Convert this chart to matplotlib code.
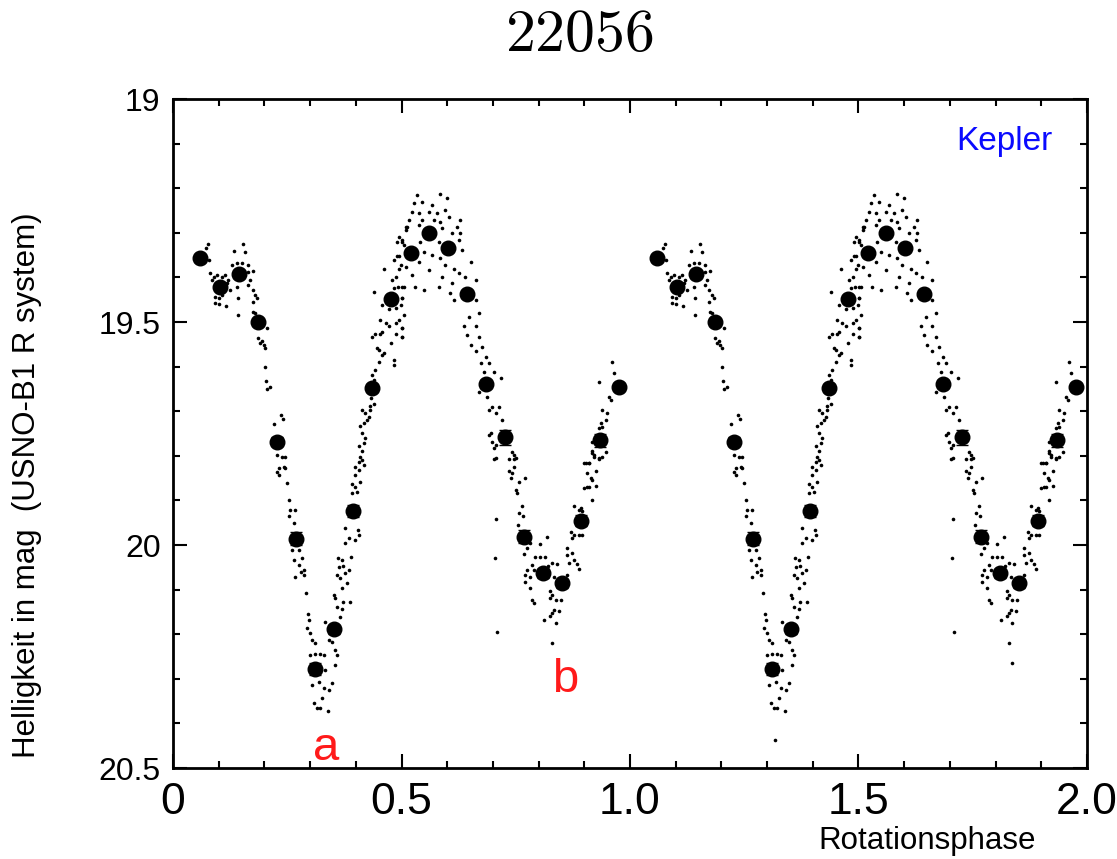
import numpy as np
import matplotlib
matplotlib.use('Agg')
import matplotlib.pyplot as plt
from matplotlib.ticker import MultipleLocator, FixedLocator, FixedFormatter

plt.rcParams['font.family'] = ['Liberation Sans', 'DejaVu Sans']
plt.rcParams['mathtext.fontset'] = 'cm'

# binned light curve (phase, R mag, error)
bin_phase = [0.060, 0.102, 0.144, 0.185, 0.227, 0.269, 0.310, 0.353, 0.393, 0.436, 0.476, 0.520,
             0.561, 0.602, 0.644, 0.684, 0.726, 0.768, 0.809, 0.852, 0.893, 0.934, 0.976]
bin_mag = [19.357, 19.421, 19.393, 19.501, 19.768, 19.986, 20.278, 20.189, 19.924, 19.648, 19.449, 19.346,
           19.300, 19.335, 19.438, 19.639, 19.758, 19.981, 20.063, 20.086, 19.945, 19.765, 19.645]
bin_err = [0.008, 0.008, 0.008, 0.008, 0.010, 0.015, 0.014, 0.010, 0.014, 0.008, 0.008, 0.008,
           0.008, 0.008, 0.008, 0.010, 0.017, 0.015, 0.010, 0.010, 0.013, 0.015, 0.008]

dots_first_max = [
    (0.076, 19.326), (0.072, 19.335), (0.079, 19.362), (0.081, 19.391), (0.089, 19.398), (0.085, 19.406),
    (0.096, 19.394), (0.107, 19.398), (0.114, 19.394), (0.120, 19.406), (0.118, 19.413), (0.091, 19.443),
    (0.100, 19.447), (0.091, 19.458), (0.101, 19.459), (0.116, 19.464), (0.107, 19.439), (0.125, 19.428),
    (0.140, 19.421), (0.142, 19.447), (0.142, 19.484), (0.133, 19.340), (0.154, 19.324), (0.157, 19.344),
    (0.129, 19.372), (0.140, 19.368), (0.151, 19.368), (0.165, 19.372), (0.164, 19.387), (0.176, 19.385),
    (0.169, 19.406), (0.165, 19.417), (0.174, 19.428), (0.180, 19.439), (0.174, 19.454), (0.184, 19.447),
    (0.176, 19.477), (0.180, 19.480), (0.206, 19.514), (0.187, 19.536), (0.195, 19.542), (0.191, 19.548),
    (0.198, 19.551), (0.202, 19.559), (0.202, 19.600), (0.203, 19.632), (0.213, 19.645), (0.206, 19.651),
    (0.237, 19.708), (0.240, 19.718), (0.222, 19.728), (0.227, 19.798), (0.238, 19.802), (0.246, 19.803),
    (0.231, 19.828), (0.242, 19.824),
]
dots_min_a = [
    (0.227, 19.836), (0.246, 19.828), (0.231, 19.843), (0.249, 19.860), (0.253, 19.898), (0.257, 19.922),
    (0.268, 19.922), (0.253, 19.935), (0.264, 19.950), (0.260, 20.011), (0.275, 20.011), (0.282, 20.030),
    (0.264, 20.034), (0.275, 20.045), (0.286, 20.056), (0.279, 20.060), (0.268, 20.072), (0.286, 20.067),
    (0.290, 20.107), (0.295, 20.154), (0.297, 20.168), (0.293, 20.187), (0.300, 20.198), (0.304, 20.213),
    (0.310, 20.219), (0.300, 20.246), (0.311, 20.244), (0.322, 20.244), (0.330, 20.246), (0.333, 20.280),
    (0.319, 20.306), (0.304, 20.314), (0.330, 20.321), (0.341, 20.325), (0.348, 20.310), (0.326, 20.343),
    (0.308, 20.355), (0.315, 20.366), (0.322, 20.366), (0.339, 20.373), (0.333, 20.172), (0.341, 20.213),
    (0.348, 20.217), (0.355, 20.235), (0.359, 20.246), (0.355, 20.269), (0.366, 20.161), (0.370, 20.144),
    (0.359, 20.138), (0.352, 20.112), (0.355, 20.119), (0.373, 20.127), (0.388, 20.127), (0.370, 20.097),
    (0.381, 20.086), (0.366, 20.075), (0.359, 20.067), (0.377, 20.063), (0.363, 20.049), (0.373, 20.047),
    (0.385, 20.056), (0.361, 20.030), (0.370, 20.034), (0.390, 20.026), (0.377, 19.996), (0.385, 19.985),
    (0.399, 19.989), (0.406, 19.977), (0.377, 19.962), (0.405, 19.966), (0.392, 19.884), (0.403, 19.880),
    (0.398, 19.869), (0.410, 19.858), (0.392, 19.863), (0.399, 19.843), (0.406, 19.832), (0.417, 19.821),
    (0.414, 19.809),
]
dots_rise = [
    (0.399, 19.824), (0.406, 19.813), (0.410, 19.802), (0.414, 19.790), (0.406, 19.779), (0.417, 19.772),
    (0.421, 19.761), (0.414, 19.749), (0.410, 19.734), (0.417, 19.727), (0.425, 19.719), (0.428, 19.712),
    (0.421, 19.704), (0.432, 19.697), (0.414, 19.697), (0.432, 19.688), (0.439, 19.684), (0.434, 19.671),
    (0.432, 19.660), (0.439, 19.630), (0.436, 19.619), (0.443, 19.607), (0.450, 19.589), (0.457, 19.574),
    (0.450, 19.563), (0.461, 19.570), (0.446, 19.559), (0.436, 19.533), (0.443, 19.527), (0.454, 19.527),
    (0.457, 19.522), (0.454, 19.495), (0.465, 19.503), (0.472, 19.509), (0.487, 19.503), (0.494, 19.495),
    (0.501, 19.514), (0.501, 19.533), (0.487, 19.527), (0.476, 19.548), (0.483, 19.585), (0.483, 19.596),
    (0.439, 19.432), (0.457, 19.462), (0.472, 19.471), (0.487, 19.469), (0.498, 19.462), (0.501, 19.447),
    (0.483, 19.424), (0.492, 19.421), (0.501, 19.421), (0.479, 19.406), (0.487, 19.398), (0.461, 19.380),
    (0.483, 19.361), (0.490, 19.353), (0.498, 19.372), (0.494, 19.382), (0.490, 19.320), (0.495, 19.309),
    (0.509, 19.294), (0.512, 19.286), (0.501, 19.316), (0.505, 19.327),
]
dots_peak = [
    (0.534, 19.215), (0.585, 19.212), (0.527, 19.234), (0.545, 19.230), (0.567, 19.238), (0.600, 19.223),
    (0.523, 19.253), (0.538, 19.256), (0.560, 19.253), (0.578, 19.256), (0.596, 19.249), (0.604, 19.264),
    (0.516, 19.271), (0.545, 19.271), (0.571, 19.271), (0.585, 19.275), (0.629, 19.271), (0.509, 19.286),
    (0.538, 19.282), (0.589, 19.290), (0.622, 19.286), (0.611, 19.301), (0.629, 19.301), (0.501, 19.320),
    (0.541, 19.320), (0.582, 19.320), (0.625, 19.316), (0.633, 19.339), (0.549, 19.342), (0.567, 19.350),
    (0.494, 19.353), (0.585, 19.357), (0.651, 19.365), (0.538, 19.365), (0.509, 19.376), (0.596, 19.372),
    (0.614, 19.380), (0.560, 19.383), (0.523, 19.395), (0.625, 19.391), (0.589, 19.398), (0.640, 19.398),
    (0.662, 19.406), (0.505, 19.421), (0.549, 19.428), (0.582, 19.421), (0.611, 19.413), (0.530, 19.421),
    (0.607, 19.436), (0.614, 19.451), (0.662, 19.451), (0.501, 19.447), (0.505, 19.484), (0.501, 19.514),
    (0.501, 19.533),
]
dots_fall = [
    (0.647, 19.488), (0.669, 19.480), (0.636, 19.510), (0.662, 19.510), (0.644, 19.529), (0.669, 19.533),
    (0.651, 19.551), (0.677, 19.555), (0.662, 19.566), (0.684, 19.578), (0.673, 19.592), (0.691, 19.592),
    (0.680, 19.611), (0.702, 19.611), (0.717, 19.626), (0.669, 19.656), (0.687, 19.667), (0.698, 19.690),
    (0.713, 19.690), (0.691, 19.697), (0.706, 19.704), (0.720, 19.719), (0.695, 19.749), (0.702, 19.783),
    (0.706, 19.805), (0.746, 19.798), (0.750, 19.805), (0.746, 19.824), (0.691, 19.753), (0.698, 19.768),
    (0.706, 19.776), (0.742, 19.791), (0.702, 19.808), (0.735, 19.808), (0.746, 19.808), (0.735, 19.835),
    (0.742, 19.839), (0.739, 19.850), (0.758, 19.858), (0.770, 19.850), (0.750, 19.877), (0.753, 19.883),
    (0.764, 19.912), (0.758, 19.929), (0.766, 19.936), (0.706, 19.942), (0.755, 19.955),
]
dots_min_b = [
    (0.704, 20.030), (0.775, 20.007), (0.768, 20.020), (0.782, 19.996), (0.804, 19.998), (0.819, 19.983),
    (0.793, 20.026), (0.804, 20.026), (0.815, 20.026), (0.786, 20.045), (0.790, 20.056), (0.775, 20.056),
    (0.771, 20.067), (0.782, 20.071), (0.771, 20.084), (0.782, 20.097), (0.785, 20.123), (0.790, 20.131),
    (0.821, 20.048), (0.830, 20.041), (0.841, 20.042), (0.833, 20.071), (0.863, 20.067), (0.826, 20.102),
    (0.830, 20.112), (0.837, 20.123), (0.826, 20.119), (0.848, 20.123), (0.833, 20.146), (0.830, 20.153),
    (0.844, 20.149), (0.826, 20.160), (0.812, 20.168), (0.837, 20.175), (0.708, 20.194), (0.830, 20.219),
    (0.863, 20.007), (0.874, 20.017), (0.863, 20.022), (0.877, 20.033), (0.885, 20.042), (0.888, 20.054),
    (0.866, 20.041),
]
dots_end = [
    (0.870, 19.970), (0.877, 19.977), (0.888, 19.977), (0.895, 19.977), (0.874, 19.985), (0.877, 19.912),
    (0.892, 19.916), (0.895, 19.923), (0.888, 19.921), (0.916, 19.899), (0.899, 19.873), (0.906, 19.869),
    (0.911, 19.869), (0.926, 19.868), (0.914, 19.850), (0.917, 19.854), (0.906, 19.839), (0.925, 19.835),
    (0.899, 19.815), (0.910, 19.815), (0.921, 19.802), (0.932, 19.806), (0.939, 19.803), (0.917, 19.794),
    (0.947, 19.791), (0.916, 19.768), (0.938, 19.736), (0.936, 19.727), (0.961, 19.589), (0.965, 19.615),
    (0.932, 19.634), (0.954, 19.667), (0.958, 19.675), (0.939, 19.697), (0.950, 19.704), (0.947, 19.719),
    (0.932, 19.738), (0.917, 19.790), (0.921, 19.798), (0.932, 19.805), (0.903, 19.817), (0.910, 19.817),
]
# a couple of points only seen in the repeated cycle
dots_second_extra = [(1.318, 20.437), (1.837, 20.265)]

xtick_pos = [0, 0.5, 1.0, 1.5, 2.0]
xtick_labels = ['0', '0.5', '1.0', '1.5', '2.0']
ytick_pos = [19, 19.5, 20, 20.5]
ytick_labels = ['19', '19.5', '20', '20.5']

raw = np.array(dots_first_max + dots_min_a + dots_rise + dots_peak + dots_fall + dots_min_b + dots_end)
extra = np.array(dots_second_extra)

fig = plt.figure(figsize=(11.17, 8.59), dpi=100)
ax = fig.add_axes([0.1549, 0.1059, 0.8182, 0.7788])

# phase diagram shown twice
for shift in (0, 1):
    ax.plot(raw[:, 0] + shift, raw[:, 1], 'o', ms=2.6, color='black', mec='none')
    ax.errorbar(np.array(bin_phase) + shift, bin_mag, yerr=bin_err, fmt='o', ms=10.5,
                color='black', ecolor='black', elinewidth=1.0, capsize=4.5, capthick=1.0, zorder=3)
ax.plot(extra[:, 0], extra[:, 1], 'o', ms=2.6, color='black', mec='none')

ax.set_xlim(0, 2)
ax.set_ylim(20.5, 19)

ax.xaxis.set_major_locator(FixedLocator(xtick_pos))
ax.xaxis.set_major_formatter(FixedFormatter(xtick_labels))
ax.yaxis.set_major_locator(FixedLocator(ytick_pos))
ax.yaxis.set_major_formatter(FixedFormatter(ytick_labels))
ax.xaxis.set_minor_locator(MultipleLocator(0.1))
ax.yaxis.set_minor_locator(MultipleLocator(0.1))
ax.tick_params(which='both', direction='in', top=True, right=True, width=1.5)
ax.tick_params(which='major', length=10)
ax.tick_params(which='minor', length=5)
ax.tick_params(axis='x', labelsize=32, pad=10)
ax.tick_params(axis='y', labelsize=23, pad=9)
for sp in ax.spines.values():
    sp.set_linewidth(2)

fig.text(0.519, 0.959, '$22056$', ha='center', va='center', fontsize=43)
fig.text(0.024, 0.435, 'Helligkeit in mag  (USNO-B1 R system)', rotation=90,
         ha='center', va='center', fontsize=22.5)
fig.text(0.927, 0.012, 'Rotationsphase', ha='right', va='baseline', fontsize=22.5)
ax.text(0.910, 0.937, 'Kepler', transform=ax.transAxes, ha='center', va='center',
        fontsize=24, color='#0a0aff')
ax.text(0.336, 20.482, 'a', ha='center', va='baseline', fontsize=34, color='#ff1a1a')
ax.text(0.858, 20.33, 'b', ha='center', va='baseline', fontsize=34, color='#ff1a1a')

fig.savefig('out.png', dpi=100)
